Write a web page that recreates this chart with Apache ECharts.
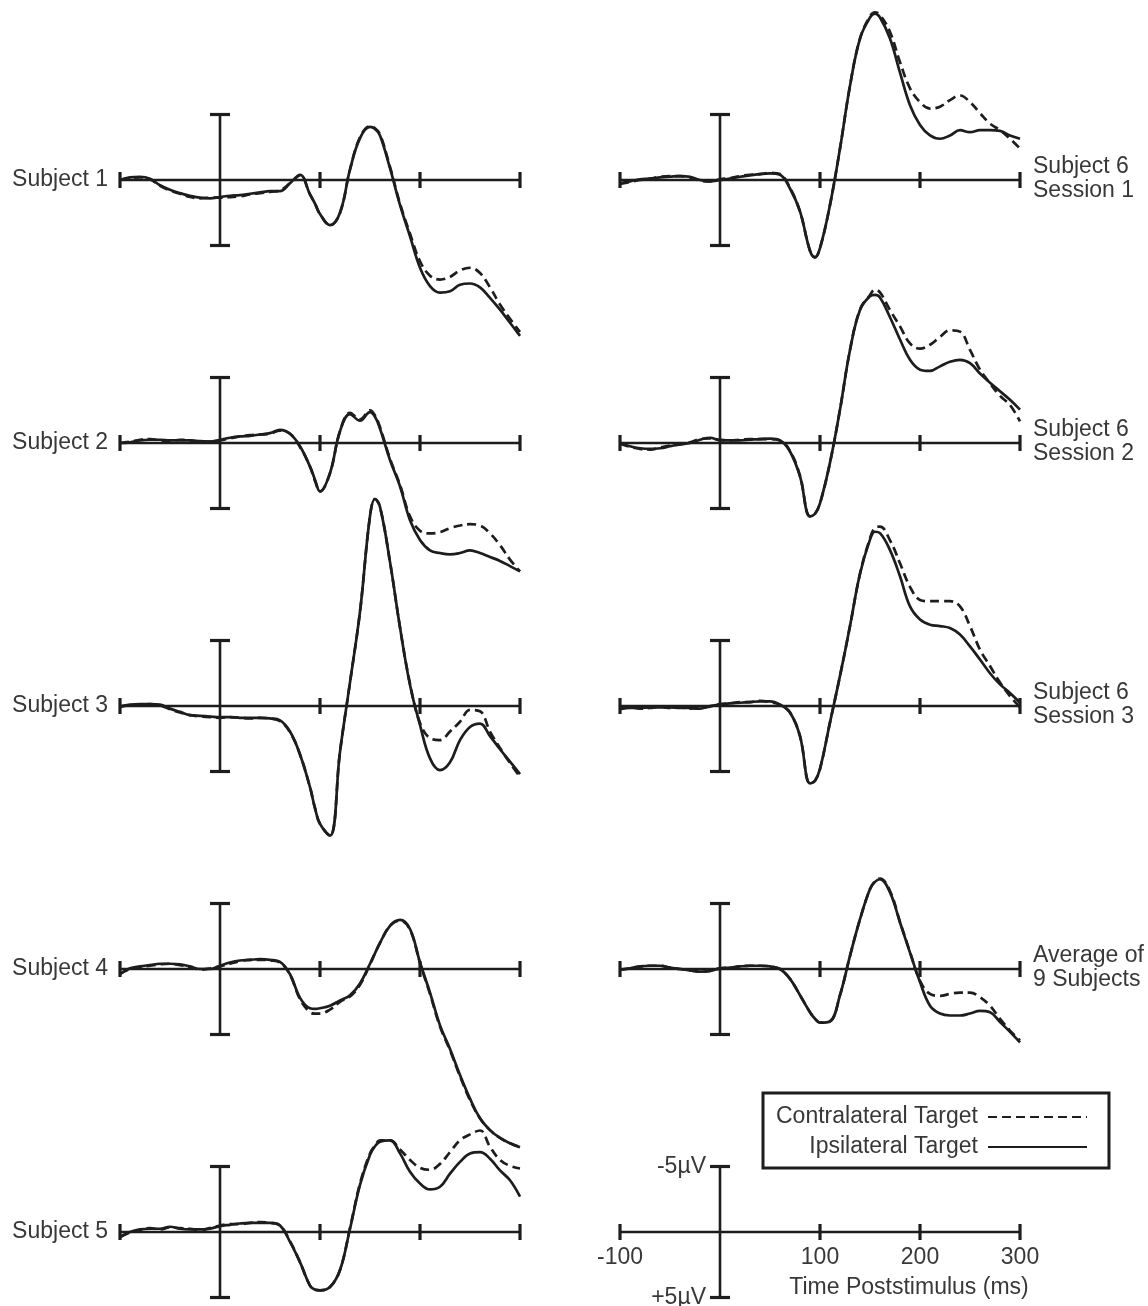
<!DOCTYPE html>
<html><head><meta charset="utf-8">
<script src="https://cdn.jsdelivr.net/npm/echarts@6/dist/echarts.min.js"></script>
<style>html,body{margin:0;padding:0;background:#fff}#c{width:1148px;height:1306px}</style>
</head><body><div id="c"></div>
<script>
// ---------- data ----------
// time samples (ms); extra samples at 95 and 155 where most peaks sit
const times = [-100,-90,-80,-70,-60,-50,-40,-30,-20,-10, 0,10,20,30,40,50,60,70,80,90, 95, 100,110,120,130,140,150, 155, 160,170,180,190, 200,210,220,230,240,250,260,270,280,290,300];
const xTickValues = [-100, 0, 100, 200, 300];
const xTickLabels = ['-100', '', '100', '200', '300'];
const yTickValues = [-5, 5];
const yTickLabels = ['-5µV', '+5µV'];
const axisTitle = 'Time Poststimulus (ms)';
const seriesNames = ['Contralateral Target', 'Ipsilateral Target'];
const panelLabels = ['Subject 1','Subject 2','Subject 3','Subject 4','Subject 5',
  'Subject 6\nSession 1','Subject 6\nSession 2','Subject 6\nSession 3','Average of\n9 Subjects'];

// voltages in µV (negative plotted upward)
const s1Contra = [0.0,-0.15,-0.2,-0.05,0.45,0.8,1.05,1.3,1.4,1.35, 1.35,1.3,1.25,1.1,1.0,0.9,0.8,0.25,-0.35,1.1, 1.8, 2.6,3.45,2.5,-0.8,-3.25,-4.1, -3.95, -3.5,-1.0,1.8,4.1, 6.2,7.3,7.6,7.4,6.9,6.7,7.1,8.2,9.5,10.6,11.6];
const s1Ipsi   = [0.0,-0.2,-0.25,-0.1,0.4,0.75,1.0,1.2,1.35,1.4, 1.3,1.2,1.15,1.05,0.95,0.85,0.85,0.25,-0.4,1.1, 1.8, 2.6,3.45,2.5,-0.8,-3.2,-4.05, -3.9, -3.4,-0.9,1.9,4.3, 6.7,8.1,8.6,8.5,8.0,7.9,8.2,9.0,9.9,10.9,11.9];
const s2Contra = [0.0,-0.1,-0.25,-0.3,-0.2,-0.15,-0.25,-0.2,-0.1,-0.1, -0.2,-0.35,-0.5,-0.6,-0.65,-0.7,-0.95,-0.7,0.3,1.8, 2.9, 3.7,2.3,-0.9,-2.3,-1.8,-2.5, -2.1, -1.2,1.2,3.2,5.6, 6.7,6.9,6.8,6.5,6.3,6.2,6.3,6.9,7.8,8.9,9.8];
const s2Ipsi   = [0.0,-0.05,-0.2,-0.25,-0.25,-0.2,-0.2,-0.2,-0.15,-0.1, -0.25,-0.4,-0.5,-0.55,-0.65,-0.75,-1.0,-0.7,0.25,1.8, 2.8, 3.7,2.3,-0.9,-2.2,-1.7,-2.35, -2.0, -1.1,1.3,3.3,5.9, 7.4,8.2,8.4,8.5,8.4,8.2,8.4,8.7,9.0,9.4,9.8];
const s3Contra = [0.05,-0.05,-0.1,-0.15,-0.05,0.25,0.5,0.7,0.8,0.85, 0.9,0.85,0.9,0.95,0.9,0.95,1.15,2.0,3.7,6.2, 7.8, 9.0,9.9,3.5,-1.8,-7.2,-14.5, -15.8, -15.2,-11.0,-6.0,-1.7, 1.3,2.45,2.6,1.95,1.2,0.3,0.4,1.95,3.2,4.35,5.4];
const s3Ipsi   = [0.05,-0.1,-0.15,-0.15,-0.1,0.2,0.45,0.7,0.75,0.8, 0.85,0.85,0.9,0.9,0.9,0.95,1.1,1.95,3.7,6.2, 7.8, 9.0,9.9,3.5,-1.8,-7.2,-14.5, -15.8, -15.2,-11.0,-6.0,-1.6, 1.45,4.0,4.9,4.3,2.6,1.6,1.35,2.3,3.3,4.25,5.2];
const s4Contra = [0.35,0.0,-0.15,-0.25,-0.35,-0.4,-0.3,-0.15,0.05,-0.05, -0.2,-0.4,-0.6,-0.7,-0.7,-0.65,-0.5,0.45,2.3,3.3, 3.4, 3.4,3.1,2.5,2.1,1.2,-0.35, -1.2, -2.0,-3.3,-3.7,-3.0, -0.45,1.9,4.4,6.2,8.2,10.0,11.4,12.3,12.9,13.3,13.6];
const s4Ipsi   = [0.4,-0.05,-0.2,-0.3,-0.4,-0.4,-0.35,-0.2,0.0,0.0, -0.25,-0.5,-0.65,-0.7,-0.75,-0.7,-0.55,0.4,2.2,3.0, 3.05, 3.0,2.8,2.4,2.0,1.1,-0.4, -1.2, -2.0,-3.3,-3.75,-3.05, -0.5,1.8,4.3,6.1,8.1,9.9,11.4,12.3,12.9,13.3,13.6];
const s5Contra = [0.35,0.05,-0.15,-0.3,-0.2,-0.35,-0.3,-0.25,-0.15,-0.3, -0.5,-0.6,-0.6,-0.7,-0.75,-0.7,-0.5,0.7,2.3,4.1, 4.4, 4.45,4.2,2.9,-0.3,-3.7,-6.0, -6.6, -7.0,-7.0,-6.3,-5.5, -4.9,-4.75,-5.2,-6.1,-7.0,-7.45,-7.75,-6.5,-5.5,-5.05,-4.85];
const s5Ipsi   = [0.4,0.0,-0.2,-0.25,-0.25,-0.4,-0.25,-0.2,-0.2,-0.25, -0.45,-0.55,-0.65,-0.7,-0.7,-0.7,-0.5,0.75,2.3,4.1, 4.4, 4.45,4.2,2.9,-0.25,-3.6,-5.9, -6.55, -6.9,-7.0,-6.0,-4.6, -3.7,-3.25,-3.45,-4.45,-5.35,-6.0,-6.1,-5.6,-4.7,-3.95,-2.7];
const s6aContra = [0.3,0.15,0.0,-0.1,-0.25,-0.3,-0.3,-0.2,0.05,0.1, -0.05,-0.15,-0.3,-0.4,-0.45,-0.55,-0.45,0.6,2.4,5.4, 5.9, 5.2,1.9,-2.4,-7.2,-10.8,-12.5, -12.8, -12.6,-11.3,-9.0,-7.0, -5.95,-5.45,-5.6,-6.1,-6.45,-5.95,-5.1,-4.3,-3.8,-3.15,-2.4];
const s6aIpsi   = [0.25,0.1,-0.05,-0.1,-0.2,-0.25,-0.3,-0.25,0.0,0.1, 0.0,-0.1,-0.25,-0.35,-0.45,-0.5,-0.4,0.65,2.4,5.4, 5.9, 5.2,1.9,-2.4,-7.2,-10.8,-12.4, -12.7, -12.4,-10.8,-8.2,-5.7, -4.2,-3.4,-3.15,-3.4,-3.8,-3.65,-3.8,-3.8,-3.75,-3.4,-3.15];
const s6bContra = [0.05,0.3,0.45,0.5,0.35,0.2,0.1,-0.05,-0.3,-0.35, -0.25,-0.2,-0.25,-0.3,-0.3,-0.3,-0.2,0.6,2.5,5.6, 5.4, 4.6,1.5,-2.55,-7.1,-10.2,-11.3, -11.7, -11.5,-10.15,-8.9,-7.6, -7.2,-7.5,-8.1,-8.6,-8.5,-7.1,-5.6,-4.55,-3.6,-2.9,-1.65];
const s6bIpsi   = [0.0,0.25,0.4,0.45,0.4,0.25,0.1,0.0,-0.25,-0.4, -0.2,-0.2,-0.2,-0.25,-0.3,-0.33,-0.2,0.65,2.55,5.6, 5.4, 4.6,1.5,-2.55,-7.1,-10.15,-11.2, -11.3, -11.1,-9.6,-7.9,-6.35, -5.6,-5.5,-5.85,-6.2,-6.35,-6.1,-5.3,-4.6,-3.95,-3.3,-2.55];
const s6cContra = [0.2,0.1,0.2,0.15,0.05,0.15,0.1,0.2,0.15,0.05, -0.15,-0.2,-0.3,-0.3,-0.4,-0.3,-0.1,0.5,2.3,5.9, 5.7, 4.8,1.25,-2.3,-6.1,-10.1,-12.8, -13.6, -13.7,-12.65,-10.9,-9.1, -8.1,-8.0,-8.0,-8.0,-7.6,-6.1,-4.3,-3.05,-1.8,-0.75,0.1];
const s6cIpsi   = [0.25,0.15,0.15,0.1,0.1,0.1,0.15,0.15,0.2,0.0, -0.1,-0.2,-0.25,-0.3,-0.35,-0.35,-0.1,0.5,2.3,5.9, 5.7, 4.8,1.25,-2.3,-6.1,-10.1,-12.7, -13.3, -13.2,-11.9,-9.9,-7.6, -6.6,-6.2,-6.1,-5.95,-5.45,-4.55,-3.55,-2.5,-1.65,-1.0,-0.25];
const avgContra = [0.05,-0.05,-0.2,-0.25,-0.25,-0.1,0.0,0.1,0.2,0.15, -0.05,-0.1,-0.2,-0.25,-0.25,-0.2,0.0,0.75,2.0,3.3, 3.8, 4.1,4.0,2.0,-1.0,-3.8,-6.1, -6.7, -6.9,-5.95,-3.6,-1.3, 0.9,1.9,2.05,1.9,1.8,1.8,2.15,2.8,3.8,4.7,5.45];
const avgIpsi   = [0.05,-0.05,-0.2,-0.25,-0.25,-0.1,0.0,0.1,0.2,0.15, -0.05,-0.1,-0.2,-0.25,-0.25,-0.2,0.0,0.75,2.0,3.3, 3.8, 4.1,4.0,2.0,-1.0,-3.8,-6.1, -6.65, -6.85,-5.85,-3.55,-1.25, 1.0,2.8,3.4,3.55,3.55,3.4,3.2,3.3,4.05,4.8,5.6];

const panelContra = [s1Contra,s2Contra,s3Contra,s4Contra,s5Contra,s6aContra,s6bContra,s6cContra,avgContra];
const panelIpsi   = [s1Ipsi,s2Ipsi,s3Ipsi,s4Ipsi,s5Ipsi,s6aIpsi,s6bIpsi,s6cIpsi,avgIpsi];

// ---------- layout / style ----------
const INK = '#1d1d1d', TEXT = '#383838';
const FONT = '"Liberation Sans", Arial, Helvetica, sans-serif';
const FS = 23;
const colLeft = [120, 620];
const baselines = [180, 443, 706, 969, 1232];
const plotW = 400, halfH = 65.5;
const CAP = 10, TICK = 8;
// the zero lines sit in the middle of the plot (x) and a quarter from the left (y)
const xAxisOffset = -halfH;      // move x axis from grid bottom up to value 0
const yAxisOffset = -plotW / 4;  // move y axis from grid left to time 0

const panels = [];
for (let i = 0; i < 9; i++) {
  panels.push({col: i < 5 ? 0 : 1, row: i < 5 ? i : i - 5, label: panelLabels[i], contra: panelContra[i], ipsi: panelIpsi[i]});
}
const allPanels = panels.concat([{col: 1, row: 4, scale: true}]);

const pairs = arr => times.map((t, k) => [t, arr[k]]);

function renderCross(params, api) {
  const pt = (x, y) => api.coord([x, y]);
  const [xa, y0] = pt(xTickValues[0], 0);
  const [xb] = pt(xTickValues[xTickValues.length - 1], 0);
  const [x0, yTop] = pt(0, yTickValues[0]);
  const [, yBot] = pt(0, yTickValues[1]);
  const st = {stroke: INK, lineWidth: 2.6};
  const capSt = {stroke: INK, lineWidth: 3.2};
  const children = [
    {type: 'line', shape: {x1: xa, y1: y0, x2: xb, y2: y0}, style: st},
    {type: 'line', shape: {x1: x0, y1: yTop, x2: x0, y2: yBot}, style: st},
    {type: 'line', shape: {x1: x0 - CAP, y1: yTop, x2: x0 + CAP, y2: yTop}, style: capSt},
    {type: 'line', shape: {x1: x0 - CAP, y1: yBot, x2: x0 + CAP, y2: yBot}, style: capSt}
  ];
  xTickValues.forEach(t => {
    if (t === 0) return;
    const [x, y] = pt(t, 0);
    children.push({type: 'line', shape: {x1: x, y1: y - TICK, x2: x, y2: y + TICK}, style: capSt});
  });
  return {type: 'group', children};
}

const grid = [], xAxis = [], yAxis = [], series = [], graphic = [];
allPanels.forEach((p, gi) => {
  grid.push({left: colLeft[p.col], top: baselines[p.row] - halfH, width: plotW, height: 2 * halfH,
    containLabel: false, outerBoundsMode: 'none'});
  xAxis.push({type: 'value', gridIndex: gi, position: 'bottom', offset: xAxisOffset,
    min: xTickValues[0], max: xTickValues[xTickValues.length - 1], interval: 100,
    axisLine: {show: false, onZero: false}, axisTick: {show: false}, splitLine: {show: false},
    axisLabel: {show: !!p.scale, margin: 14, color: TEXT, fontSize: FS, fontFamily: FONT,
      showMinLabel: true, showMaxLabel: true, hideOverlap: false,
      formatter: v => { const k = xTickValues.indexOf(v); return k >= 0 ? xTickLabels[k] : ''; }}});
  yAxis.push({type: 'value', gridIndex: gi, position: 'left', offset: yAxisOffset,
    min: yTickValues[0], max: yTickValues[1], interval: 5, inverse: true,
    axisLine: {show: false, onZero: false}, axisTick: {show: false}, splitLine: {show: false},
    axisLabel: {show: !!p.scale, margin: 14, color: TEXT, fontSize: FS, fontFamily: FONT,
      showMinLabel: true, showMaxLabel: true, hideOverlap: false,
      formatter: v => { const k = yTickValues.indexOf(v); return k >= 0 ? yTickLabels[k] : ''; }}});
  series.push({type: 'custom', xAxisIndex: gi, yAxisIndex: gi, data: [[0, 0]], renderItem: renderCross,
    clip: false, silent: true, z: 1});
  if (!p.scale) {
    series.push({type: 'line', name: seriesNames[1], xAxisIndex: gi, yAxisIndex: gi, data: pairs(p.ipsi),
      showSymbol: false, symbol: 'none', smooth: 0.4, clip: false, silent: true, z: 3,
      lineStyle: {color: INK, width: 2.7, type: 'solid'}, itemStyle: {color: INK}});
    series.push({type: 'line', name: seriesNames[0], xAxisIndex: gi, yAxisIndex: gi, data: pairs(p.contra),
      showSymbol: false, symbol: 'none', smooth: 0.4, clip: false, silent: true, z: 4,
      lineStyle: {color: INK, width: 2.7, type: [9, 5]}, itemStyle: {color: INK}});
    const isLeft = p.col === 0;
    graphic.push({type: 'text', x: isLeft ? 108 : 1033, y: baselines[p.row] - (isLeft ? 0 : 1),
      style: {text: p.label, fill: TEXT, fontSize: FS, fontFamily: FONT, lineHeight: 24,
        align: isLeft ? 'right' : 'left', verticalAlign: 'middle'}});
  }
});
graphic.push({type: 'text', x: 909, y: 1288,
  style: {text: axisTitle, fill: TEXT, fontSize: FS, fontFamily: FONT, align: 'center', verticalAlign: 'middle'}});

const chart = echarts.init(document.getElementById('c'), null, {renderer: 'canvas'});
chart.setOption({
  animation: false,
  backgroundColor: '#fff',
  grid, xAxis, yAxis, series, graphic,
  legend: {
    data: [seriesNames[0], seriesNames[1]],
    orient: 'vertical', align: 'right', left: 763, top: 1093,
    itemWidth: 99, itemHeight: 14, itemGap: 4,
    padding: [11, 21, 8, 13],
    borderColor: INK, borderWidth: 3, backgroundColor: '#fff',
    selectedMode: false,
    itemStyle: {opacity: 0},
    textStyle: {fontSize: FS, color: TEXT, fontFamily: FONT, lineHeight: 26, padding: [0, 5, 0, 0]}
  }
});
</script></body></html>
